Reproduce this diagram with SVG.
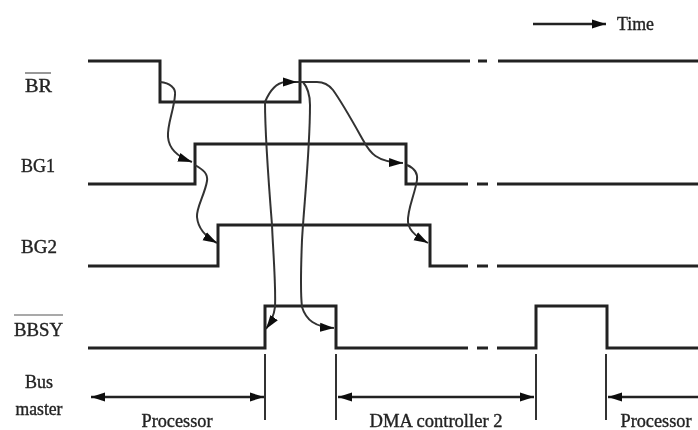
<svg xmlns="http://www.w3.org/2000/svg" width="698" height="430" viewBox="0 0 698 430">
<style>
.sig{fill:none;stroke:#222;stroke-width:3}
.cur{fill:none;stroke:#333;stroke-width:2}
.lim{fill:none;stroke:#333;stroke-width:2}
.arr{fill:none;stroke:#222;stroke-width:2.6}
.bar{fill:none;stroke:#555;stroke-width:1.2}
text{font-family:"Liberation Serif",serif;fill:#222;font-size:18px;stroke:#222;stroke-width:.35}
</style>
<defs>
<marker id="ah" markerUnits="userSpaceOnUse" markerWidth="16" markerHeight="10" refX="14" refY="5" orient="auto-start-reverse"><path d="M0 .5 L14 5 L0 9.5 Z" fill="#111"/></marker>
<filter id="soft" x="-2%" y="-2%" width="104%" height="104%"><feGaussianBlur stdDeviation="0.6"/></filter>
</defs>
<rect width="698" height="430" fill="#fff"/>
<g filter="url(#soft)">
<g id="time"><text x="617" y="30" textLength="37" lengthAdjust="spacingAndGlyphs">Time</text></g>
<g id="label-br"><text x="25" y="92" textLength="27" lengthAdjust="spacingAndGlyphs">BR</text><path class="bar" d="M25 73H51"/></g>
<g id="label-bg1"><text x="21" y="172" textLength="34" lengthAdjust="spacingAndGlyphs">BG1</text></g>
<g id="label-bg2"><text x="21" y="253" textLength="36" lengthAdjust="spacingAndGlyphs">BG2</text></g>
<g id="label-bbsy"><text x="14" y="336" textLength="49" lengthAdjust="spacingAndGlyphs">BBSY</text><path class="bar" d="M14 315H63"/></g>
<g id="label-bus"><text x="39" y="388" text-anchor="middle">Bus</text><text x="39" y="415" text-anchor="middle" textLength="47" lengthAdjust="spacingAndGlyphs">master</text></g>
<g id="sig-br"><path class="sig" d="M88 61H160V102H300V61H470M478 61H487M498 61H698"/></g>
<g id="sig-bg1"><path class="sig" d="M88 184H195V144H406V184H468M477 184H488M497 184H698"/></g>
<g id="sig-bg2"><path class="sig" d="M88 266H218V225H430V266H468M477 266H488M497 266H698"/></g>
<g id="sig-bbsy"><path class="sig" d="M88 348H265V306H336V348H468M477 348H488M497 348H536V306H607V348H698"/></g>
<g id="bus-limits"><path class="lim" d="M265 354V420M336 354V420M536 354V420M606 354V420"/></g>
<g id="connectors">
<path class="cur" marker-end="url(#ah)" d="M160 82C170 83 176 88 175 95C174 110 167 125 168 137C169 150 178 157 192 162"/>
<path class="cur" marker-end="url(#ah)" d="M195 165C204 170 208 174 207 181C205 194 196 208 197 217C198 228 206 237 217 243"/>
<path class="cur" marker-end="url(#ah)" d="M265 102C270 90 276 83 285 82L297 82"/>
<path class="cur" d="M297 82H301"/>
<path class="cur" marker-end="url(#ah)" d="M300 82L317 82C325 82 329 85 333 90C343 104 354 124 363 140C370 153 376 162 403 163"/>
<path class="cur" marker-end="url(#ah)" d="M407 165C414 168 418 172 417 180C415 194 407 210 408 222C409 232 419 238 428 243"/>
<path class="cur" marker-end="url(#ah)" d="M265 102C265 130 270 200 272 225C273 250 276 285 275 307C274 315 271 322 266 329"/>
<path class="cur" marker-end="url(#ah)" d="M303 82C308 88 310 95 310 105C310 150 304 205 302 240C301 265 300 290 302 307C306 320 315 327 334 328"/>
</g>
<g id="bus-arrows">
<path class="arr" marker-start="url(#ah)" marker-end="url(#ah)" d="M91 397H264"/>
<path class="arr" marker-start="url(#ah)" marker-end="url(#ah)" d="M338 397H534"/>
<path class="arr" marker-start="url(#ah)" d="M608 397H698"/>
<path class="arr" marker-end="url(#ah)" d="M533 24H606"/>
</g>
<g id="bus-labels">
<text x="177" y="427" text-anchor="middle" textLength="71" lengthAdjust="spacingAndGlyphs">Processor</text>
<text x="436" y="427" text-anchor="middle" textLength="133" lengthAdjust="spacingAndGlyphs">DMA controller 2</text>
<text x="656" y="427" text-anchor="middle" textLength="71" lengthAdjust="spacingAndGlyphs">Processor</text>
</g>
</g>
</svg>
